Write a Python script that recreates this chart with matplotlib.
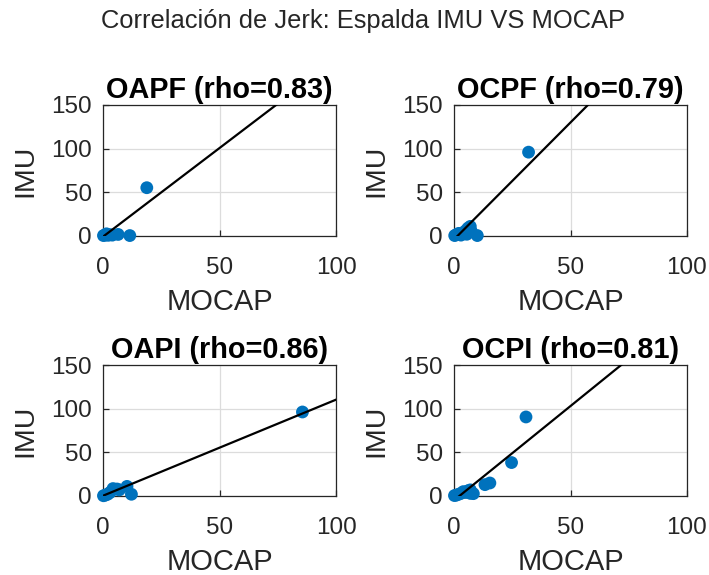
import matplotlib
matplotlib.use("Agg")
import matplotlib.pyplot as plt
import numpy as np

plt.rcParams['font.family'] = ['Liberation Sans', 'DejaVu Sans']

# Jerk values per movement: MOCAP (x) vs back IMU (y)
titles = ["OAPF", "OCPF", "OAPI", "OCPI"]
rho = [0.83, 0.79, 0.86, 0.81]

oapf_mocap = [0.2, 0.8, 1.5, 2.2, 3.0, 4.0, 6.5, 11.5, 18.8]
oapf_imu = [0.5, 1.0, 2.5, 0.8, 1.5, 1.0, 1.8, 0.5, 55.3]

ocpf_mocap = [0.3, 1.0, 2.0, 3.0, 4.0, 5.0, 6.0, 7.0, 7.5, 5.5, 10.0, 32.0]
ocpf_imu = [0.5, 1.5, 3.0, 1.0, 4.0, 6.0, 9.0, 11.0, 5.0, 2.0, 0.5, 96.0]

oapi_mocap = [0.2, 1.0, 2.0, 3.0, 4.3, 6.0, 7.0, 10.3, 12.2, 85.6]
oapi_imu = [0.3, 1.0, 2.0, 4.0, 8.5, 8.0, 7.0, 11.0, 2.0, 96.2]

ocpi_mocap = [0.2, 1.0, 2.0, 3.0, 4.0, 5.0, 6.0, 7.0, 8.3, 7.0, 13.3, 15.4, 24.7, 30.9]
ocpi_imu = [0.5, 1.0, 2.0, 3.0, 5.0, 4.0, 6.0, 3.0, 2.7, 7.0, 13.0, 14.9, 38.3, 90.5]

# least-squares fit lines (slope, intercept)
fit_slope = [2.03, 2.68, 1.10, 2.16]
fit_intercept = [-0.8, -4.0, 0.3, -5.0]

mocap = [oapf_mocap, ocpf_mocap, oapi_mocap, ocpi_mocap]
imu = [oapf_imu, ocpf_imu, oapi_imu, ocpi_imu]

W, H = 709, 575
fig = plt.figure(figsize=(W / 100, H / 100), dpi=100)

# axes rectangles in pixels: left, top, right, bottom
boxes = [(103, 105, 336, 236), (454, 105, 687, 236),
         (103, 365, 336, 496), (454, 365, 687, 496)]

axcol = '#262626'
blue = '#0072BD'

for i, (l, t, r, b) in enumerate(boxes):
    ax = fig.add_axes([l / W, 1 - b / H, (r - l) / W, (b - t) / H])
    ax.scatter(mocap[i], imu[i], s=85, color=blue, edgecolors='none',
               zorder=3, clip_on=False)
    xs = np.array([0, 100])
    ax.plot(xs, fit_slope[i] * xs + fit_intercept[i], color='black', lw=1.6, zorder=4)
    ax.set_xlim(0, 100)
    ax.set_ylim(0, 150)
    ax.set_xticks([0, 50, 100])
    ax.set_yticks([0, 50, 100, 150])
    ax.grid(True, color='#dcdcdc', lw=0.9)
    ax.set_axisbelow(True)
    for s in ax.spines.values():
        s.set_color(axcol)
        s.set_linewidth(0.9)
    ax.tick_params(direction='in', length=4, width=0.9, colors=axcol,
                   labelsize=17.5, top=False, right=False)
    ax.tick_params(axis='x', pad=15)
    ax.tick_params(axis='y', pad=8)
    ax.set_xlabel('MOCAP', fontsize=21, color=axcol, labelpad=6.5)
    ax.set_ylabel('IMU', fontsize=20.5, color=axcol, labelpad=9)
    ax.set_title(f"{titles[i]} (rho={rho[i]:.2f})", fontsize=20.8,
                 fontweight='bold', color='black', pad=5)

fig.text(363 / W, 1 - 21 / H, 'Correlación de Jerk: Espalda IMU VS MOCAP',
         ha='center', va='center', fontsize=18.4, color='#262626')

fig.savefig('out.png', dpi=100)
